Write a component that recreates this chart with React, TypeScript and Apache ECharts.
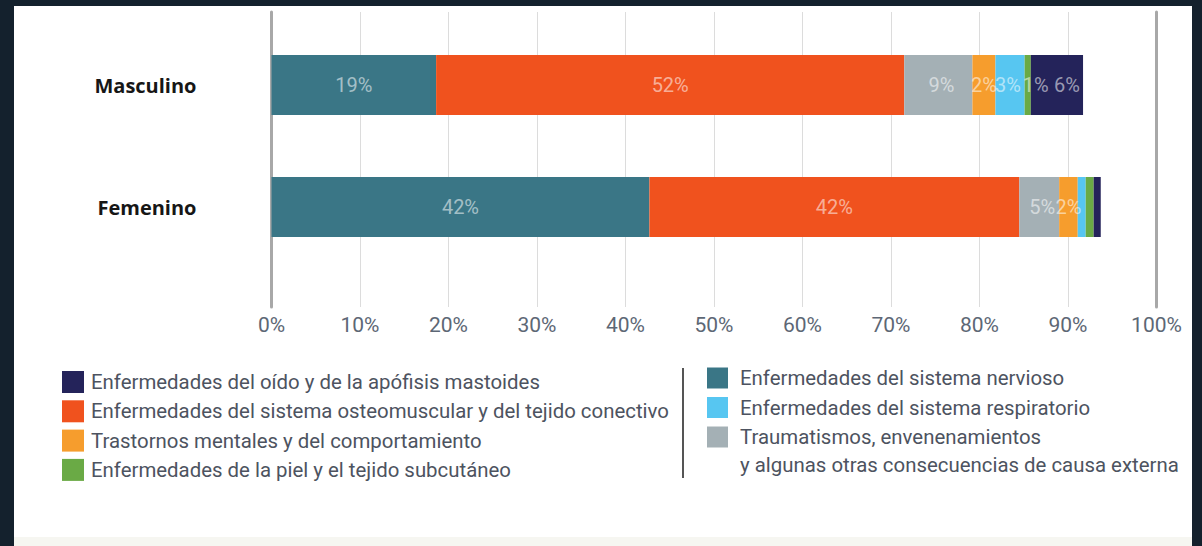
import React, { useEffect, useRef } from 'react';
import * as echarts from 'echarts';

const categories = ['Masculino', 'Femenino'];
const xTicks = [0, 10, 20, 30, 40, 50, 60, 70, 80, 90, 100];

const nameNervioso = 'Enfermedades del sistema nervioso';
const nameOsteo = 'Enfermedades del sistema osteomuscular y del tejido conectivo';
const nameTrauma = 'Traumatismos, envenenamientos y algunas otras consecuencias de causa externa';
const nameMentales = 'Trastornos mentales y del comportamiento';
const nameResp = 'Enfermedades del sistema respiratorio';
const namePiel = 'Enfermedades de la piel y el tejido subcutáneo';
const nameOido = 'Enfermedades del oído y de la apófisis mastoides';
const traumaLine1 = 'Traumatismos, envenenamientos';
const traumaLine2 = 'y algunas otras consecuencias de causa externa';

const nervioso = [18.6, 42.7];
const osteo = [52.9, 41.8];
const trauma = [7.7, 4.5];
const mentales = [2.6, 2.1];
const resp = [3.3, 0.9];
const piel = [0.7, 0.9];
const oido = [5.9, 0.8];

const nerviosoLabels = ['19%', '42%'];
const osteoLabels = ['52%', '42%'];
const traumaLabels = ['9%', '5%'];
const mentalesLabels = ['2%', '2%'];
const respLabels = ['3%', ''];
const pielLabels = ['1%', ''];
const oidoLabels = ['6%', ''];

const leftLegend = [nameOido, nameOsteo, nameMentales, namePiel];
const rightLegend = [nameNervioso, nameResp, nameTrauma];

const FONT = "Roboto, 'Liberation Sans', sans-serif";

export default function App() {
  const ref = useRef<HTMLDivElement>(null);
  useEffect(() => {
    const chart = echarts.init(ref.current!, null, { renderer: 'svg' });
    const mk = (name: string, values: number[], labels: string[], color: string, dx = 0) => ({
      name,
      type: 'bar',
      stack: 'total',
      xAxisIndex: 1,
      yAxisIndex: 2,
      barWidth: 60,
      itemStyle: { color },
      label: {
        show: true,
        position: 'inside',
        offset: [dx, 0],
        color: 'rgba(255,255,255,0.55)',
        fontFamily: FONT,
        fontSize: 20,
        formatter: (p: any) => labels[p.dataIndex],
      },
      data: values,
    });
    const legendText = {
      fontFamily: FONT,
      fontSize: 20.4,
      lineHeight: 29,
      color: '#4d5360',
    };
    const option: any = {
      animation: false,
      backgroundColor: 'transparent',
      grid: [
        { left: 271.5, right: 45.5, top: 12, height: 295 },
        { left: 271.5, right: 45.5, top: 24, height: 244 },
      ],
      xAxis: [
        {
          gridIndex: 0,
          type: 'value',
          min: xTicks[0],
          max: xTicks[xTicks.length - 1],
          interval: 10,
          axisLine: { show: false },
          axisTick: { show: false },
          splitLine: { show: true, lineStyle: { color: '#dcdcdc', width: 1 } },
          axisLabel: {
            formatter: '{value}%',
            fontFamily: FONT,
            fontSize: 21,
            color: '#5d6775',
            margin: 7,
          },
        },
        { gridIndex: 1, type: 'value', min: 0, max: 100, show: false },
      ],
      yAxis: [
        {
          gridIndex: 0,
          type: 'value',
          position: 'left',
          axisLine: { show: true, lineStyle: { color: '#a8a8a8', width: 3 } },
          axisTick: { show: false },
          axisLabel: { show: false },
          splitLine: { show: false },
        },
        {
          gridIndex: 0,
          type: 'value',
          position: 'right',
          axisLine: { show: true, lineStyle: { color: '#a8a8a8', width: 3 } },
          axisTick: { show: false },
          axisLabel: { show: false },
          splitLine: { show: false },
        },
        {
          gridIndex: 1,
          type: 'category',
          inverse: true,
          data: categories,
          axisLine: { show: false },
          axisTick: { show: false },
          axisLabel: {
            fontFamily: "'Open Sans', sans-serif",
            fontWeight: 'bold',
            fontSize: 20,
            color: '#161616',
            margin: 75,
          },
        },
      ],
      legend: [
        {
          orient: 'vertical',
          left: 62,
          top: 367.5,
          padding: 0,
          itemWidth: 22,
          itemHeight: 22,
          itemGap: 0.3,
          icon: 'rect',
          selectedMode: false,
          textStyle: { ...legendText, padding: [0, 0, 0, 2] },
          data: leftLegend,
        },
        {
          orient: 'vertical',
          left: 707,
          top: 363.5,
          padding: 0,
          itemWidth: 21,
          itemHeight: 21,
          itemGap: 0.5,
          icon: 'rect',
          selectedMode: false,
          textStyle: { ...legendText, padding: [0, 0, 0, 7] },
          formatter: (name: string) => (name === nameTrauma ? traumaLine1 : name),
          data: rightLegend,
        },
      ],
      graphic: [
        {
          type: 'line',
          shape: { x1: 683, y1: 368, x2: 683, y2: 478 },
          style: { stroke: '#555', lineWidth: 2 },
        },
        {
          type: 'text',
          x: 740,
          y: 465,
          style: {
            text: traumaLine2,
            fontFamily: FONT,
            fontSize: 20.4,
            fill: '#4d5360',
            verticalAlign: 'middle',
            align: 'left',
          },
        },
      ],
      series: [
        mk(nameNervioso, nervioso, nerviosoLabels, '#3a7686'),
        mk(nameOsteo, osteo, osteoLabels, '#f0521e'),
        mk(nameTrauma, trauma, traumaLabels, '#a4b0b5', 3),
        mk(nameMentales, mentales, mentalesLabels, '#f69d2d'),
        mk(nameResp, resp, respLabels, '#57c6f1', -2),
        mk(namePiel, piel, pielLabels, '#6aaa45', 8),
        mk(nameOido, oido, oidoLabels, '#24235a', 10),
      ],
    };
    chart.setOption(option);
    return () => chart.dispose();
  }, []);
  return (
    <div style={{ position: 'fixed', left: 0, top: 0, width: 1202, height: 546, background: '#14212d' }}>
      <div style={{ position: 'absolute', left: 14, top: 6, width: 1178, height: 531, background: '#ffffff' }} />
      <div style={{ position: 'absolute', left: 14, top: 537, width: 1178, height: 9, background: '#f6f6f1' }} />
      <div ref={ref} style={{ position: 'absolute', left: 0, top: 0, width: 1202, height: 546 }} />
    </div>
  );
}
